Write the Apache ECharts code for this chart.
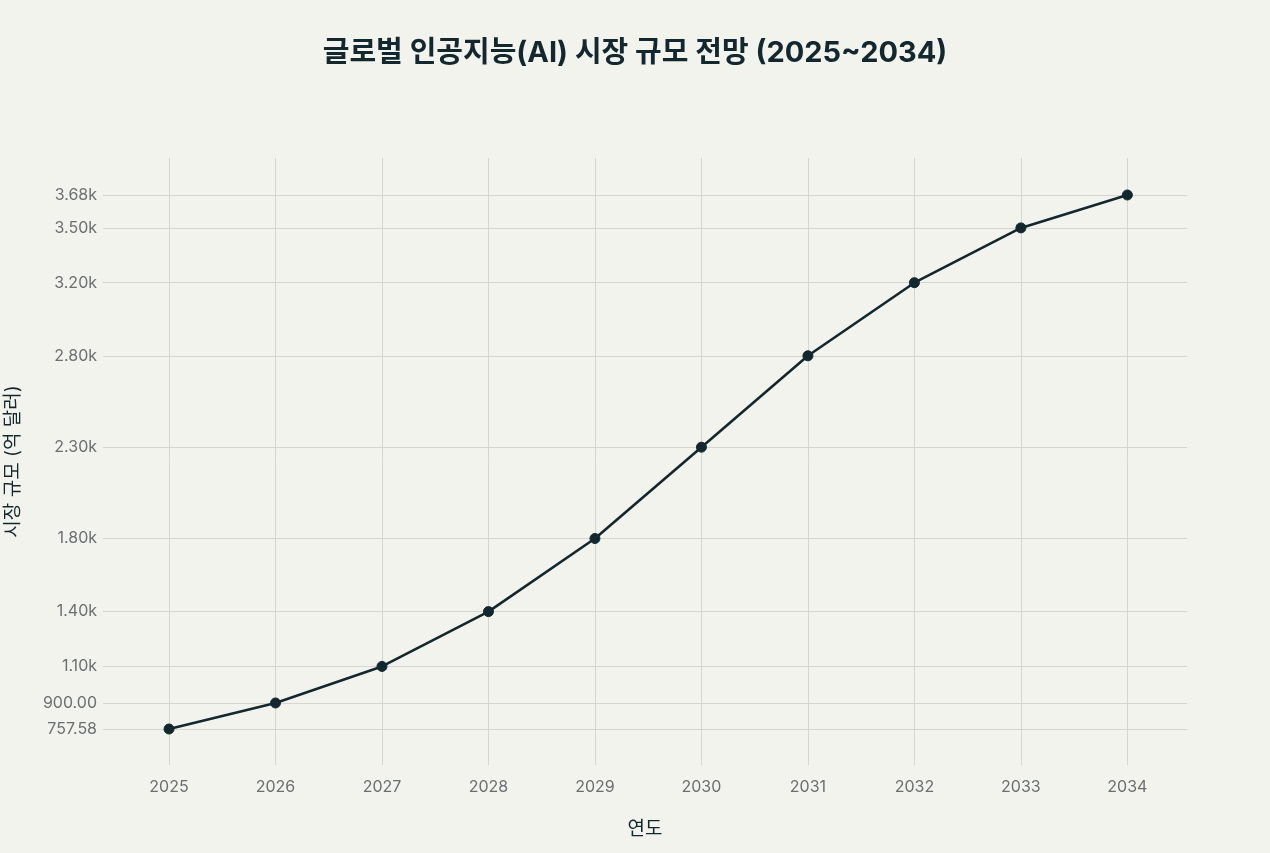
<!DOCTYPE html>
<html>
<head>
<meta charset="utf-8">
<script src="https://cdn.jsdelivr.net/npm/echarts@6/dist/echarts.min.js"></script>
<style>
html, body { margin: 0; padding: 0; background: #f3f3ee; }
#chart { width: 1270px; height: 853px; }
</style>
</head>
<body>
<div id="chart"></div>
<script>
const years = [2025, 2026, 2027, 2028, 2029, 2030, 2031, 2032, 2033, 2034];
const marketSize = [757.58, 900, 1100, 1400, 1800, 2300, 2800, 3200, 3500, 3680];
const yTicks = [757.58, 900, 1100, 1400, 1800, 2300, 2800, 3200, 3500, 3680];

const chart = echarts.init(document.getElementById('chart'));
const fontFam = 'Inter, "Noto Sans CJK KR", sans-serif';

chart.setOption({
  animation: false,
  backgroundColor: '#f3f3ee',
  title: {
    text: '글로벌 인공지능(AI) 시장 규모 전망 (2025~2034)',
    left: 'center',
    top: 34,
    textStyle: { fontFamily: fontFam, fontSize: 29, fontWeight: 'bold', color: '#13282e' }
  },
  grid: { left: 103, right: 83, top: 158, bottom: 88, outerBoundsMode: 'none', containLabel: false },
  xAxis: {
    type: 'value',
    min: 2024.38,
    max: 2034.56,
    name: '연도',
    nameLocation: 'middle',
    nameGap: 55,
    nameTextStyle: { fontFamily: fontFam, fontSize: 19, color: '#13282e' },
    axisLine: { show: false },
    axisTick: { show: false, customValues: years },
    axisLabel: {
      customValues: years,
      margin: 14,
      color: '#6b6f70',
      fontFamily: fontFam,
      fontSize: 16,
      formatter: v => String(v)
    },
    splitLine: { show: true, lineStyle: { color: '#d6d6d1', width: 1 } }
  },
  yAxis: {
    type: 'value',
    min: 560.6,
    max: 3882.5,
    name: '시장 규모 (억 달러)',
    nameLocation: 'middle',
    nameGap: 80,
    nameRotate: 90,
    nameTextStyle: { fontFamily: fontFam, fontSize: 19, color: '#13282e' },
    axisLine: { show: false },
    axisTick: { show: false, customValues: yTicks },
    axisLabel: {
      customValues: yTicks,
      margin: 6,
      color: '#6b6f70',
      fontFamily: fontFam,
      fontSize: 16,
      formatter: v => v >= 1000 ? (v / 1000).toFixed(2) + 'k' : v.toFixed(2)
    },
    splitLine: { show: true, lineStyle: { color: '#d6d6d1', width: 1 } }
  },
  series: [{
    type: 'line',
    data: years.map((y, i) => [y, marketSize[i]]),
    symbol: 'circle',
    symbolSize: 10,
    lineStyle: { color: '#13282e', width: 2.6 },
    itemStyle: { color: '#13282e', borderColor: '#13282e', borderWidth: 1 }
  }]
});
</script>
</body>
</html>
